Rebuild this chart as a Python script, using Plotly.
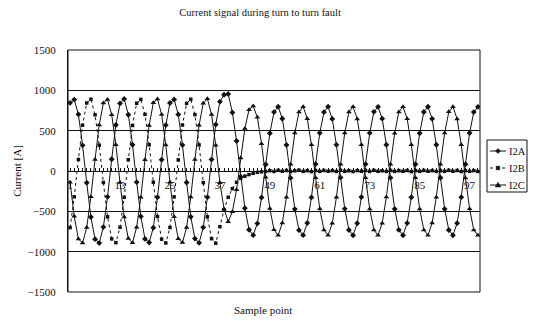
import plotly.graph_objects as go

samples = list(range(1, 100))

i2a = [845, 885, 702, 318, -145, -570, -845, -892, -695, -320, 146, 570,
       838, 893, 697, 325, -138, -563, -842, -886, -703, -326, 139, 568,
       843, 887, 700, 321, -143, -568, -838, -891, -698, -324, 143, 575,
       860, 945, 955, 725, 372, -70, -462, -728, -795, -650, -328, 80,
       468, 730, 797, 648, 322, -86, -472, -733, -795, -645, -327, 86,
       471, 729, 798, 646, 324, -82, -469, -732, -797, -648, -323, 85,
       470, 733, 795, 649, 326, -85, -471, -730, -796, -646, -325, 83,
       468, 731, 797, 647, 325, -84, -470, -731, -796, -647, -324, 84,
       471, 730, 795]

i2b = [-702, -320, 143, 568, 843, 890, 697, 320, -142, -568, -842, -888,
       -697, -326, 140, 564, 840, 887, 702, 325, -139, -565, -845, -892,
       -700, -321, 138, 570, 838, 889, 699, 323, -144, -568, -839, -895,
       -690, -480, -325, -218, -140, -92, -64, -44, -28, -17, -10, -5,
       4, -6, 8, -3, 6, -7, 3, 9, -5, 4, -8, 6,
       -4, 7, -3, 5, -6, 8, -4, 3, -7, 5, -3, 6,
       -5, 8, -4, 3, -6, 7, -5, 4, -3, 6, -8, 5,
       -4, 7, -3, 5, -6, 4, -5, 8, -3, 6, -7, 4,
       -4, 5, -6]

i2c = [-138, -562, -843, -893, -701, -318, 144, 569, 842, 886, 697, 326,
       -144, -569, -838, -889, -697, -325, 139, 563, 845, 892, 701, 321,
       -140, -566, -841, -887, -700, -322, 142, 567, 840, 895, 699, 318,
       -145, -470, -628, -505, -232, 160, 528, 760, 805, 665, 338, -76,
       -466, -729, -798, -645, -325, 84, 470, 731, 797, 648, 324, -84,
       -469, -732, -795, -649, -326, 85, 472, 730, 796, 646, 325, -83,
       -470, -731, -797, -647, -323, 84, 469, 732, 795, 648, 326, -85,
       -471, -730, -796, -646, -324, 83, 470, 733, 797, 645, 325, -86,
       -468, -732, -796]

series_names = ["I2A", "I2B", "I2C"]
y_ticks = [-1500, -1000, -500, 0, 500, 1000, 1500]
x_ticks = [1, 13, 25, 37, 49, 61, 73, 85, 97]

FONT = "Liberation Serif, Times New Roman, serif"
INK = "#111111"

# plot area in pixels: left 68, right 480, top 50, bottom 292
L, R, T, B = 68, 480, 50, 292
W, H = R - L, B - T


def px(x):
    return (x - L) / W


def py(y):
    return (B - y) / H


fig = go.Figure()
fig.add_trace(go.Scatter(x=samples, y=i2a, name=series_names[0], mode="lines+markers",
                         line=dict(color=INK, width=1),
                         marker=dict(symbol="diamond", size=4.5, color=INK)))
fig.add_trace(go.Scatter(x=samples, y=i2b, name=series_names[1], mode="lines+markers",
                         line=dict(color=INK, width=1, dash="dot"),
                         marker=dict(symbol="square", size=3.5, color=INK)))
fig.add_trace(go.Scatter(x=samples, y=i2c, name=series_names[2], mode="lines+markers",
                         line=dict(color=INK, width=1),
                         marker=dict(symbol="triangle-up", size=5, color=INK)))

# hand-drawn compact legend (box, line samples, marker glyphs, labels)
shapes = [dict(type="rect", xref="paper", yref="paper", x0=0, x1=1, y0=0, y1=1,
               line=dict(color=INK, width=1), layer="above"),
          dict(type="rect", xref="paper", yref="paper",
               x0=px(487), x1=px(527), y0=py(192), y1=py(140),
               line=dict(color=INK, width=1), fillcolor="white")]
annotations = []
item_y = [151, 168, 185]
dashes = ["solid", "dot", "solid"]
for name, yy, dsh, k in zip(series_names, item_y, dashes, range(3)):
    shapes.append(dict(type="line", xref="paper", yref="paper",
                       x0=px(490), x1=px(506), y0=py(yy), y1=py(yy),
                       line=dict(color=INK, width=1, dash=dsh)))
    cx, cy = 498, yy
    if k == 0:
        pts = [(cx, cy - 2.5), (cx + 2.5, cy), (cx, cy + 2.5), (cx - 2.5, cy)]
    elif k == 1:
        pts = [(cx - 1.8, cy - 1.8), (cx + 1.8, cy - 1.8), (cx + 1.8, cy + 1.8), (cx - 1.8, cy + 1.8)]
    else:
        pts = [(cx, cy - 2.8), (cx + 2.8, cy + 2), (cx - 2.8, cy + 2)]
    path = "M " + " L ".join(f"{px(a):.5f},{py(b):.5f}" for a, b in pts) + " Z"
    shapes.append(dict(type="path", xref="paper", yref="paper", path=path,
                       fillcolor=INK, line=dict(color=INK, width=0.5)))
    annotations.append(dict(text=name, xref="paper", yref="paper",
                            x=px(507), y=py(yy), xanchor="left", yanchor="middle",
                            showarrow=False,
                            font=dict(family=FONT, size=10.5, color=INK)))

annotations.append(dict(text="Sample point", xref="paper", yref="paper",
                        x=px(263), y=py(310), xanchor="center", yanchor="middle",
                        showarrow=False, font=dict(family=FONT, size=11, color=INK)))

fig.update_layout(
    width=533, height=322,
    margin=dict(l=L, r=533 - R, t=T, b=322 - B),
    paper_bgcolor="white", plot_bgcolor="white",
    font=dict(family=FONT, size=11, color=INK),
    title=dict(text="Current signal during turn to turn fault",
               x=0.488, xanchor="center", y=0.962, yanchor="middle",
               font=dict(family=FONT, size=10.5, color=INK)),
    showlegend=False,
    xaxis=dict(range=[0.5, 99.5], anchor="free", position=0.5,
               tickmode="array", tickvals=x_ticks,
               ticktext=[str(v) for v in x_ticks],
               ticks="inside", ticklen=3, tickcolor=INK,
               minor=dict(dtick=1, tick0=1, ticks="inside", ticklen=3, tickcolor=INK),
               showline=True, linecolor=INK, linewidth=1,
               showgrid=False, zeroline=False,
               ticklabelstandoff=4,
               tickfont=dict(family=FONT, size=11, color=INK)),
    yaxis=dict(range=[-1500, 1500], tickmode="array", tickvals=y_ticks,
               showgrid=True, gridcolor=INK, gridwidth=1,
               zeroline=False, showline=True, linecolor=INK, linewidth=1,
               ticks="", ticklabelstandoff=9,
               tickfont=dict(family=FONT, size=11, color=INK),
               title=dict(text="Current [A]", standoff=3,
                          font=dict(family=FONT, size=11, color=INK))),
    shapes=shapes,
    annotations=annotations,
)

fig.write_html("out.html")
